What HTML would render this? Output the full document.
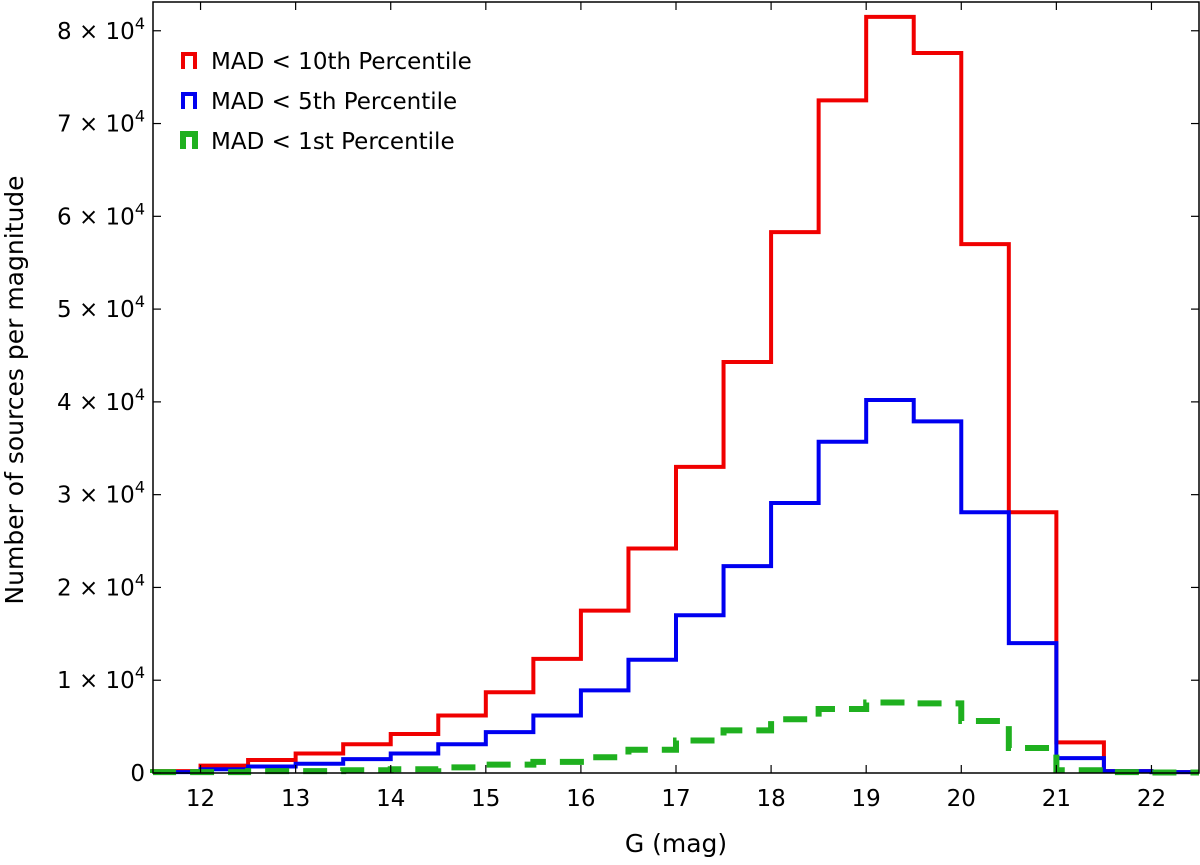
<!DOCTYPE html>
<html><head><meta charset="utf-8"><style>
body{margin:0;background:#fff;}
svg text{font-family:"DejaVu Sans","Liberation Sans",sans-serif;fill:#000;}
</style></head><body>
<svg id="chart" width="1200" height="860" xmlns="http://www.w3.org/2000/svg"></svg>
<script>
const binStarts=[11.5,12,12.5,13,13.5,14,14.5,15,15.5,16,16.5,17,17.5,18,18.5,19,19.5,20,20.5,21,21.5,22];
const redValues=[200,800,1400,2100,3100,4200,6200,8700,12300,17500,24200,33000,44300,58300,72500,81500,77600,57000,28100,3300,200,100];
const blueValues=[100,400,700,1000,1500,2100,3100,4400,6200,8900,12200,17000,22300,29100,35700,40200,37900,28100,14000,1600,200,100];
const greenValues=[100,100,200,200,300,400,600,900,1200,1700,2500,3500,4600,5800,6900,7600,7500,5600,2700,300,100,50];
const xTicks=[12,13,14,15,16,17,18,19,20,21,22];
const yTicks=[0,1,2,3,4,5,6,7,8];
const binWidth=0.5;
const L=153,R=1199,T=2,B=773,xMin=11.5,xMax=22.5,yMax=83100;
const NS="http://www.w3.org/2000/svg";
const svg=document.getElementById('chart');
const xs=v=>L+(v-xMin)/(xMax-xMin)*(R-L);
const ys=v=>B-v/yMax*(B-T);
function el(tag,attrs,parent){const e=document.createElementNS(NS,tag);for(const k in attrs)e.setAttribute(k,attrs[k]);(parent||svg).appendChild(e);return e;}
function series(vals,color,name,dash,w){
  let d='M'+xs(binStarts[0])+','+ys(0);
  vals.forEach((v,i)=>{d+=' L'+xs(binStarts[i])+','+ys(v)+' L'+xs(binStarts[i]+binWidth)+','+ys(v);});
  const p=el('path',{d:d,fill:'none',stroke:color,'stroke-width':w||4,'stroke-dasharray':dash||'none'});
  
  
}
series(redValues,'#f00000','series-red-10th');
series(blueValues,'#0000f0','series-blue-5th');
series(greenValues,'#1fb01f','series-green-1st','24,14',6);
const frame=el('rect',{x:L,y:T,width:R-L,height:B-T,fill:'none',stroke:'#000','stroke-width':1.5});


xTicks.forEach(t=>{
  const x=xs(t);
  el('line',{x1:x,x2:x,y1:B,y2:B-8,stroke:'#000','stroke-width':1.2});
  el('line',{x1:x,x2:x,y1:T,y2:T+8,stroke:'#000','stroke-width':1.2});
  const tx=el('text',{x:x,y:B+33,'text-anchor':'middle','font-size':23});
  tx.textContent=t;
  
  
});
yTicks.forEach(t=>{
  const y=ys(t*10000);
  el('line',{x1:L,x2:L+8,y1:y,y2:y,stroke:'#000','stroke-width':1.2});
  el('line',{x1:R,x2:R-8,y1:y,y2:y,stroke:'#000','stroke-width':1.2});
  const tx=el('text',{x:L-8,y:y+8,'text-anchor':'end','font-size':23});
  if(t===0){tx.textContent='0';}
  else{tx.textContent=t+' \u00d7 10';const s=el('tspan',{dy:-10,'font-size':16},tx);s.textContent='4';}
  
  
});
const xt=el('text',{x:(L+R)/2,y:852,'text-anchor':'middle','font-size':25});
xt.textContent='G (mag)';


const yt=el('text',{x:0,y:0,'text-anchor':'middle','font-size':25,transform:'translate(23,390) rotate(-90)'});
yt.textContent='Number of sources per magnitude';


const legend=[['MAD < 10th Percentile','#f00000'],['MAD < 5th Percentile','#0000f0'],['MAD < 1st Percentile','#1fb01f']];
legend.forEach((l,i)=>{
  const y=60+i*40;
  const g=el('g',{});
  
  
  el('path',{d:`M183,${y+9} L183,${y-6} L195,${y-6} L195,${y+9}`,fill:'none',stroke:l[1],'stroke-width':i===2?6:4},g);
  const tx=el('text',{x:211,y:y+9,'font-size':23},g);
  tx.textContent=l[0];
});
</script>
</body></html>
